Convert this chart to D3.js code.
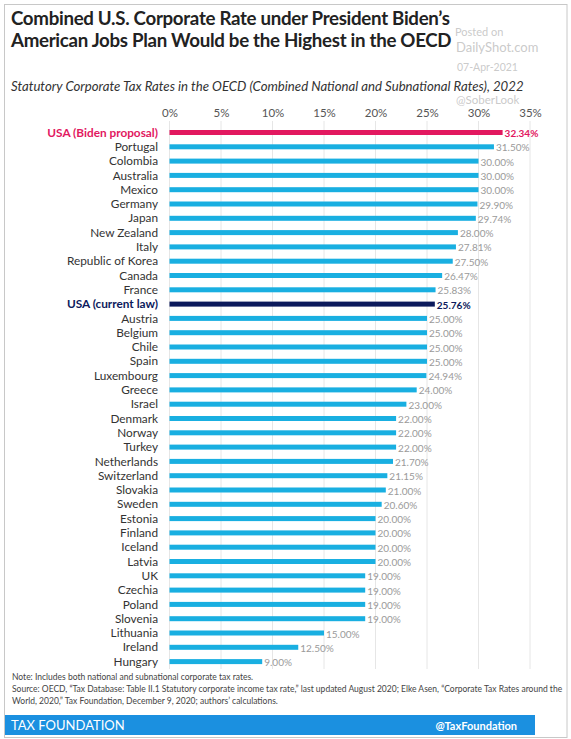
<!DOCTYPE html>
<html>
<head>
<meta charset="utf-8">
<script src="https://cdn.jsdelivr.net/npm/d3@7"></script>
<style>
  html, body { margin: 0; padding: 0; background: #fff; }
  svg { display: block; }
  text { font-family: Lato, "Open Sans", sans-serif; }
</style>
</head>
<body>
<svg id="chart" width="571" height="739"></svg>
<script>
const countries = ["USA (Biden proposal)","Portugal","Colombia","Australia","Mexico","Germany","Japan","New Zealand","Italy","Republic of Korea","Canada","France","USA (current law)","Austria","Belgium","Chile","Spain","Luxembourg","Greece","Israel","Denmark","Norway","Turkey","Netherlands","Switzerland","Slovakia","Sweden","Estonia","Finland","Iceland","Latvia","UK","Czechia","Poland","Slovenia","Lithuania","Ireland","Hungary"];
const rates = [32.34,31.50,30.00,30.00,30.00,29.90,29.74,28.00,27.81,27.50,26.47,25.83,25.76,25.00,25.00,25.00,25.00,24.94,24.00,23.00,22.00,22.00,22.00,21.70,21.15,21.00,20.60,20.00,20.00,20.00,20.00,19.00,19.00,19.00,19.00,15.00,12.50,9.00];
const tickValues = [0,5,10,15,20,25,30,35];
const highlight = {"USA (Biden proposal)": "#e2185f", "USA (current law)": "#0c1a5c"};

const title1 = "Combined U.S. Corporate Rate under President Biden\u2019s";
const title2 = "American Jobs Plan Would be the Highest in the OECD";
const subtitle = "Statutory Corporate Tax Rates in the OECD (Combined National and Subnational Rates), 2022";
const notes = [
  "Note: Includes both national and subnational corporate tax rates.",
  "Source: OECD, \u201CTax Database: Table II.1 Statutory corporate income tax rate,\u201D last updated August 2020; Elke Asen, \u201CCorporate Tax Rates around the",
  "World, 2020,\u201D Tax Foundation, December 9, 2020; authors\u2019 calculations."
];
const watermark = ["Posted on", "DailyShot.com", "07-Apr-2021", "@SoberLook"];

const data = countries.map((c, i) => ({country: c, rate: rates[i]}));
const svg = d3.select("#chart");

// outer border
svg.append("rect").attr("x", 4.5).attr("y", 4.5).attr("width", 562.5).attr("height", 733)
  .attr("fill", "#fff").attr("stroke", "#c8c8c8").attr("stroke-width", 1);

// title
svg.append("text").attr("x", 11).attr("y", 25).attr("font-size", 18.7).attr("font-weight", 700)
  .attr("fill", "#222").attr("letter-spacing", -0.3).text(title1);
svg.append("text").attr("x", 11).attr("y", 47).attr("font-size", 18.7).attr("font-weight", 700)
  .attr("fill", "#222").attr("letter-spacing", -0.3).text(title2);
svg.append("text").attr("x", 11).attr("y", 91).attr("font-size", 13.2).attr("font-style", "italic")
  .attr("fill", "#333").text(subtitle);

const x = d3.scaleLinear().domain([0, 35]).range([169.5, 530]);
const y = d3.scalePoint().domain(countries).range([132.5, 661.6]);
const barH = 5;

// gridlines
svg.append("g").selectAll("line").data(tickValues).join("line")
  .attr("x1", d => x(d)).attr("x2", d => x(d))
  .attr("y1", 121).attr("y2", 669)
  .attr("stroke", "#e6e6e6").attr("stroke-width", 1);

// top axis
const axis = d3.axisTop(x).tickValues(tickValues).tickFormat(d => d + "%").tickSize(0).tickPadding(0);
const ag = svg.append("g").attr("transform", "translate(0,117)").call(axis);
ag.select(".domain").remove();
ag.selectAll("text").attr("font-family", "Lato, sans-serif").attr("font-size", 11.5).attr("fill", "#555");

// bars
svg.append("g").selectAll("rect").data(data).join("rect")
  .attr("x", x(0))
  .attr("y", d => y(d.country) - barH / 2)
  .attr("width", d => x(d.rate) - x(0))
  .attr("height", barH)
  .attr("fill", d => highlight[d.country] || "#19afe1");

// category labels
svg.append("g").selectAll("text").data(data).join("text")
  .attr("x", 158)
  .attr("y", d => y(d.country))
  .attr("dy", "0.35em")
  .attr("text-anchor", "end")
  .attr("font-size", 11.8)
  .attr("font-weight", d => highlight[d.country] ? 700 : 400)
  .attr("fill", d => highlight[d.country] || "#333")
  .text(d => d.country);

// value labels
svg.append("g").selectAll("text").data(data).join("text")
  .attr("x", d => x(d.rate) + 2)
  .attr("y", d => y(d.country) + 1)
  .attr("dy", "0.35em")
  .attr("font-size", 10)
  .attr("font-weight", d => highlight[d.country] ? 700 : 400)
  .attr("fill", d => highlight[d.country] || "#9a9a9a")
  .text(d => d.rate.toFixed(2) + "%");

// notes
svg.append("g").selectAll("text").data(notes).join("text")
  .attr("x", 12).attr("y", (d, i) => 680 + i * 12)
  .attr("font-size", 8.5).attr("fill", "#444").text(d => d);

// footer band
svg.append("rect").attr("x", 5).attr("y", 715).attr("width", 530).attr("height", 20).attr("fill", "#1b90e0");
svg.append("text").attr("x", 11).attr("y", 729.5).attr("font-size", 13).attr("fill", "#fff").text("TAX FOUNDATION");
svg.append("text").attr("x", 517).attr("y", 729.5).attr("text-anchor", "end").attr("font-size", 11).attr("font-weight", 700)
  .attr("fill", "#fff").text("@TaxFoundation");

// watermark
const wm = [{t: watermark[0], x: 455, y: 36, s: 11}, {t: watermark[1], x: 456, y: 52, s: 13}, {t: watermark[2], x: 457, y: 71, s: 10.5}, {t: watermark[3], x: 456, y: 104, s: 11.5}];
svg.append("g").selectAll("text").data(wm).join("text")
  .attr("x", d => d.x).attr("y", d => d.y).attr("font-size", d => d.s)
  .attr("font-family", "Liberation Sans, Arial, sans-serif")
  .attr("fill", "#c4c4c4").attr("fill-opacity", 0.9).text(d => d.t);
</script>
</body>
</html>
